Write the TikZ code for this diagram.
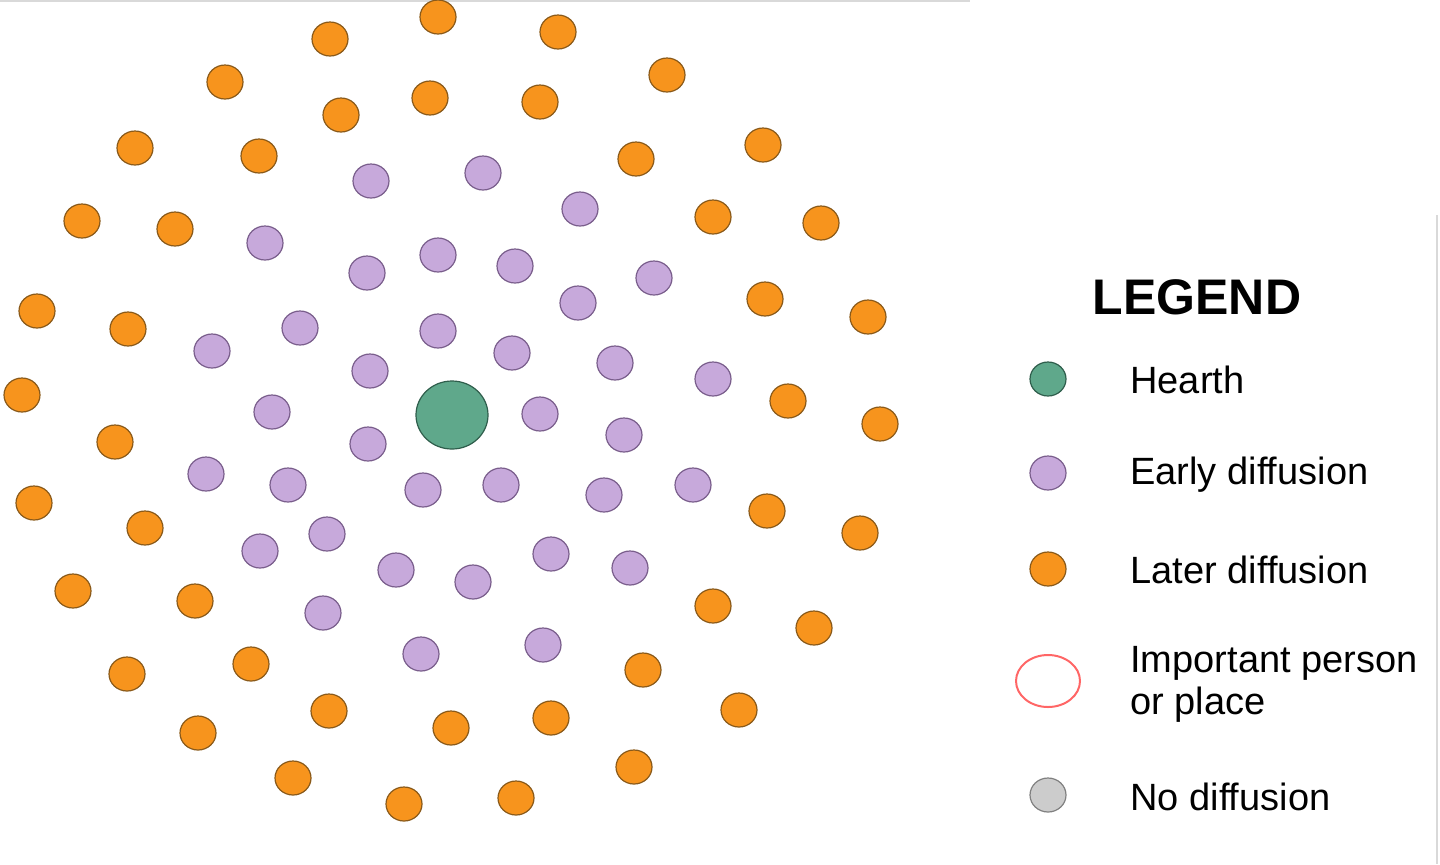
\documentclass[tikz,border=0pt]{standalone}
\usepackage{fontspec}
\setmainfont{Liberation Sans}
\definecolor{org}{HTML}{F7941D}
\definecolor{orgd}{HTML}{8A5A1A}
\definecolor{pur}{HTML}{C7A9DB}
\definecolor{purd}{HTML}{7A5E8C}
\definecolor{grn}{HTML}{5FA88B}
\definecolor{grnd}{HTML}{2F5E4C}
\begin{document}
\begin{tikzpicture}[x=0.5pt,y=-0.5pt,
  dotorg/.style={fill=org,draw=orgd,line width=0.6pt},
  dotpur/.style={fill=pur,draw=purd,line width=0.6pt},
  lbl/.style={anchor=west,font=\fontsize{19}{21}\selectfont,inner sep=0}]
\useasboundingbox (0,0) rectangle (1440,864);
\draw[black!15,line width=0.8pt] (0,1) -- (970,1);
\draw[black!15,line width=0.8pt] (1437,215) -- (1437,864);
\foreach \x/\y in {438/17,330/39,558/32,225/82,667/75,430/98,341/115,540/102,135/148,259/156,636/159,763/145,82/221,175/229,713/217,821/223,37/311,128/329,765/299,868/317,22/395,115/442,788/401,880/424,34/503,145/528,767/511,860/533,73/591,195/601,713/606,814/628,127/674,251/664,643/670,739/710,198/733,329/711,451/728,551/718,293/778,404/804,516/798,634/767}
  \draw[dotorg] (\x,\y) ellipse [x radius=18,y radius=17];
\foreach \x/\y in {371/181,483/173,580/209,265/243,438/255,367/273,515/266,654/278,578/303,300/328,438/331,212/351,512/353,370/371,615/363,713/379,272/412,540/414,368/444,624/435,206/474,288/485,423/490,501/485,604/495,693/485,327/534,260/551,551/554,396/570,473/582,630/568,323/613,421/654,543/645}
  \draw[dotpur] (\x,\y) ellipse [x radius=18,y radius=17];
\draw[fill=grn,draw=grnd,line width=0.6pt] (452,415) ellipse [x radius=36,y radius=34];
% legend
\node[font=\bfseries\fontsize{25}{27}\selectfont,inner sep=0] (lg) at (1197,297) {LEGEND};
\draw[fill=grn,draw=grnd,line width=0.6pt] (1048,379) ellipse [x radius=18,y radius=17];
\draw[dotpur] (1048,473) ellipse [x radius=18,y radius=17];
\draw[dotorg] (1048,569) ellipse [x radius=18,y radius=17];
\draw[draw=red!60,line width=1pt] (1048,681) ellipse [x radius=32,y radius=26];
\draw[fill=black!20,draw=black!50,line width=0.6pt] (1048,795) ellipse [x radius=18,y radius=17];
\node[lbl] (t1) at (1130,380) {Hearth};
\node[lbl] (t2) at (1130,475) {Early diffusion};
\node[lbl] (t3) at (1130,570) {Later diffusion};
\node[lbl,align=left] (t4) at (1130,684) {\fontsize{19}{19}\selectfont Important person\\or place};
\node[lbl] (t5) at (1130,797) {No diffusion};
\end{tikzpicture}
\end{document}
